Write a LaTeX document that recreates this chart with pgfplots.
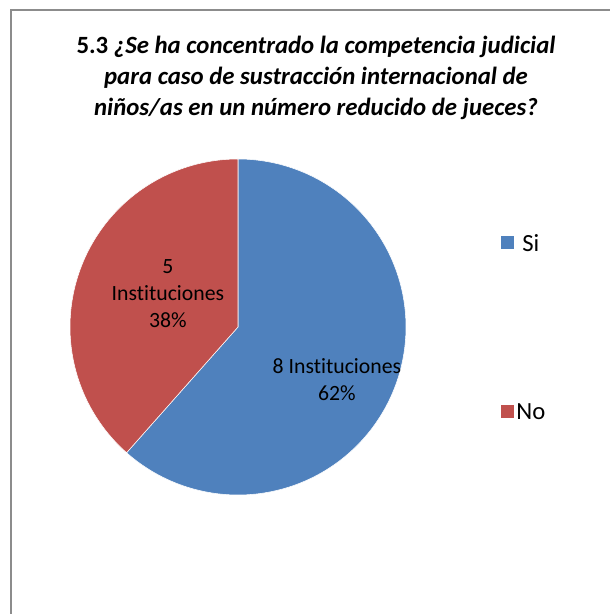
\documentclass[border=0pt]{standalone}
\usepackage{fontspec}
\setmainfont{Carlito}[Ligatures={NoCommon}]
\usepackage{pgfplots}
\usepackage{pgfplotstable}
\pgfplotsset{compat=1.18}
\definecolor{siblue}{HTML}{4F81BD}
\definecolor{nored}{HTML}{C0504D}
\definecolor{framegray}{HTML}{8C8C8C}

\pgfplotstableread{
label value
Si 8
No 5
}\pietable

\begin{document}
\begin{tikzpicture}
\useasboundingbox (0,0) rectangle (457.5pt,460.5pt);
% chart frame (only left and top edges fall inside the picture)
\draw[framegray, line width=1.6pt] (8.25pt,-2pt) -- (8.25pt,453pt) -- (460pt,453pt);

\node[align=center, font=\fontsize{18.6}{23.25}\selectfont\bfseries] at (237pt,402pt)
  {5.3 \textit{¿Se ha concentrado la competencia judicial}\\
   \textit{para caso de sustracción internacional de}\\
   \textit{niños/as en un número reducido de jueces?}};

\pgfplotstablegetelem{0}{value}\of\pietable \let\vSi\pgfplotsretval
\pgfplotstablegetelem{1}{value}\of\pietable \let\vNo\pgfplotsretval
\pgfmathsetmacro\aSi{360*\vSi/(\vSi+\vNo)}
\pgfmathsetmacro\aEnd{90-\aSi}

\begin{axis}[
  at={(178.5pt,215.25pt)}, anchor=origin,
  x=126pt, y=126pt,
  xmin=-1.1, xmax=1.1, ymin=-1.1, ymax=1.1,
  hide axis, clip=false,
  legend style={draw=none, fill=none, at={(axis cs:1.54,-0.005)}, anchor=west,
    font=\fontsize{18.5}{21}\selectfont, row sep=109pt},
  legend image code/.code={\fill[#1,draw=none] (0pt,-4pt) rectangle (9.5pt,5.5pt);},
]
\addplot[fill=siblue, draw=white, line width=0.4pt, domain=\aEnd:90, samples=150, variable=\t]
  ({cos(\t)},{sin(\t)}) -- (0,0) -- cycle;
\addlegendentry{Si}
\addplot[fill=nored, draw=white, line width=0.4pt, domain=-270:\aEnd, samples=120, variable=\t]
  ({cos(\t)},{sin(\t)}) -- (0,0) -- cycle;
\addlegendentry{No}

\node[align=center, font=\fontsize{16.3}{20.25}\selectfont] at (axis cs:0.589,-0.315)
  {8 Instituciones\\62\%};
\node[align=center, font=\fontsize{16.3}{20.25}\selectfont] at (axis cs:-0.417,0.2)
  {5\\Instituciones\\38\%};
\end{axis}
\end{tikzpicture}
\end{document}
